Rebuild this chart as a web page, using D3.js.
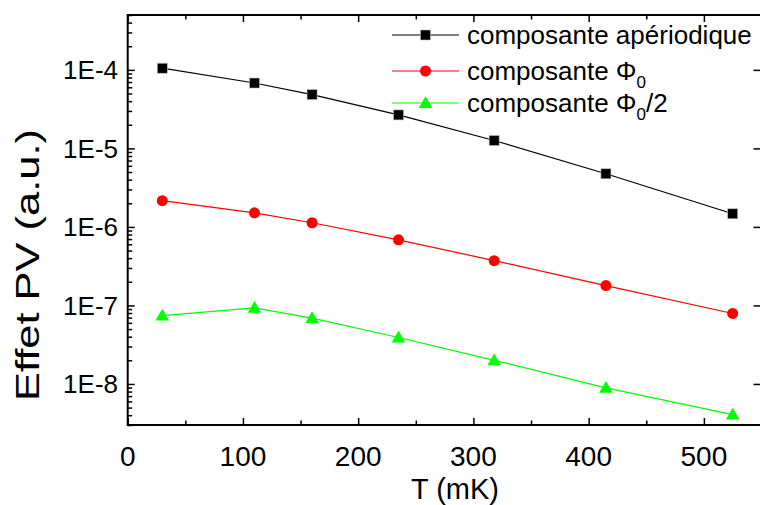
<!DOCTYPE html>
<html>
<head>
<meta charset="utf-8">
<script src="https://cdn.jsdelivr.net/npm/d3@7"></script>
<style>
  html, body { margin: 0; padding: 0; background: #fff; }
  svg { display: block; font-family: "Liberation Sans", Arial, sans-serif; }
</style>
</head>
<body>
<svg id="chart" width="760" height="505"></svg>
<script>
// ---- data ----
const temperatures = [30, 110, 160, 235, 318, 415, 525];
const aperiodique = [1.05e-4, 6.8e-5, 4.85e-5, 2.67e-5, 1.26e-5, 4.75e-6, 1.47e-6];
const phi0 = [2.16e-6, 1.51e-6, 1.13e-6, 6.85e-7, 3.72e-7, 1.79e-7, 7.9e-8];
const phi0half = [7.4e-8, 9.3e-8, 6.9e-8, 3.9e-8, 2.0e-8, 8.9e-9, 4.07e-9];
const xTicks = [0, 100, 200, 300, 400, 500];
const yTicks = [1e-8, 1e-7, 1e-6, 1e-5, 1e-4];
const yTickLabels = ["1E-8", "1E-7", "1E-6", "1E-5", "1E-4"];

const svg = d3.select("#chart");
const L = 127.7, R = 761.5, T = 15, B = 425;

const x = d3.scaleLinear().domain([0, 550]).range([L, R]);
const y = d3.scaleLog().domain([3e-9, 5e-4]).range([B, T]);

const series = [
  { name: "aper", values: aperiodique, color: "#000000", marker: "square" },
  { name: "phi0", values: phi0, color: "#ff0000", marker: "circle" },
  { name: "phi0half", values: phi0half, color: "#00ff00", marker: "triangle" }
];

// minor ticks
const minorY = [];
for (let e = -9; e <= -4; e++) {
  for (let m = 2; m <= 9; m++) {
    const v = m * Math.pow(10, e);
    if (v >= 3e-9 && v <= 5e-4) minorY.push(v);
  }
}
const minorX = [50, 150, 250, 350, 450, 550];

const axisG = svg.append("g");

// left axis
axisG.append("g")
  .attr("transform", `translate(${L},0)`)
  .call(d3.axisRight(y).tickValues(yTicks).tickSize(7).tickFormat(""))
  .call(g => g.select(".domain").remove())
  .selectAll("line").attr("stroke", "#000").attr("stroke-width", 1.5);
axisG.append("g")
  .attr("transform", `translate(${L},0)`)
  .call(d3.axisRight(y).tickValues(minorY).tickSize(4.5).tickFormat(""))
  .call(g => g.select(".domain").remove())
  .selectAll("line").attr("stroke", "#000").attr("stroke-width", 1.5);
// y labels
yTicks.forEach((v, i) => {
  svg.append("text")
    .attr("x", 118).attr("y", y(v))
    .attr("dy", "0.36em")
    .attr("text-anchor", "end")
    .attr("font-size", 26)
    .text(yTickLabels[i]);
});

// right axis (major only)
axisG.append("g")
  .attr("transform", `translate(${R},0)`)
  .call(d3.axisLeft(y).tickValues(yTicks).tickSize(8).tickFormat(""))
  .call(g => g.select(".domain").remove())
  .selectAll("line").attr("stroke", "#000").attr("stroke-width", 1.5);

// bottom axis
axisG.append("g")
  .attr("transform", `translate(0,${B})`)
  .call(d3.axisTop(x).tickValues(xTicks).tickSize(7).tickFormat(""))
  .call(g => g.select(".domain").remove())
  .selectAll("line").attr("stroke", "#000").attr("stroke-width", 1.5);
axisG.append("g")
  .attr("transform", `translate(0,${B})`)
  .call(d3.axisTop(x).tickValues(minorX).tickSize(4.5).tickFormat(""))
  .call(g => g.select(".domain").remove())
  .selectAll("line").attr("stroke", "#000").attr("stroke-width", 1.5);
xTicks.forEach(v => {
  svg.append("text")
    .attr("x", x(v)).attr("y", 466)
    .attr("text-anchor", "middle")
    .attr("font-size", 28)
    .text(v);
});

// top axis
axisG.append("g")
  .attr("transform", `translate(0,${T})`)
  .call(d3.axisBottom(x).tickValues(xTicks).tickSize(7).tickFormat(""))
  .call(g => g.select(".domain").remove())
  .selectAll("line").attr("stroke", "#000").attr("stroke-width", 1.5);
axisG.append("g")
  .attr("transform", `translate(0,${T})`)
  .call(d3.axisBottom(x).tickValues(minorX).tickSize(4.5).tickFormat(""))
  .call(g => g.select(".domain").remove())
  .selectAll("line").attr("stroke", "#000").attr("stroke-width", 1.5);

// frame
svg.append("rect")
  .attr("x", L).attr("y", T).attr("width", R - L).attr("height", B - T)
  .attr("fill", "none").attr("stroke", "#000").attr("stroke-width", 2);

// axis titles
svg.append("text")
  .attr("x", 455).attr("y", 499)
  .attr("text-anchor", "middle")
  .attr("font-size", 29)
  .text("T (mK)");
svg.append("text")
  .attr("transform", `translate(39,265) rotate(-90)`)
  .attr("text-anchor", "middle")
  .attr("font-size", 33)
  .attr("textLength", 272)
  .attr("lengthAdjust", "spacingAndGlyphs")
  .text("Effet PV (a.u.)");

// lines and markers
const line = d3.line().x((d, i) => x(temperatures[i])).y(d => y(d));
const tri = d3.symbol().type(d3.symbolTriangle).size(80);

function drawMarker(g, type, color, cx, cy) {
  if (type === "square") {
    g.append("rect").attr("x", cx - 5).attr("y", cy - 5).attr("width", 10).attr("height", 10)
      .attr("fill", color).attr("stroke", "#bbb").attr("stroke-width", 0.6);
  } else if (type === "circle") {
    g.append("circle").attr("cx", cx).attr("cy", cy).attr("r", 5.5).attr("fill", color);
  } else {
    g.append("path").attr("d", tri()).attr("transform", `translate(${cx},${cy + 1})`).attr("fill", color);
  }
}

series.forEach(s => {
  svg.append("path")
    .datum(s.values)
    .attr("d", line)
    .attr("fill", "none")
    .attr("stroke", s.color)
    .attr("stroke-width", 1.2);
  const g = svg.append("g");
  s.values.forEach((v, i) => drawMarker(g, s.marker, s.color, x(temperatures[i]), y(v)));
});

// legend
const legend = [
  { color: "#000000", marker: "square", y: 35 },
  { color: "#ff0000", marker: "circle", y: 71 },
  { color: "#00ff00", marker: "triangle", y: 103 }
];
legend.forEach((d, i) => {
  const g = svg.append("g");
  g.append("line").attr("x1", 392).attr("x2", 459).attr("y1", d.y).attr("y2", d.y)
    .attr("stroke", d.color).attr("stroke-width", 1.2);
  drawMarker(g, d.marker, d.color, 425.5, d.y);
  const t = g.append("text").attr("x", 467).attr("y", d.y + 8.5).attr("font-size", 26);
  if (i === 0) {
    t.text("composante apériodique");
  } else {
    t.append("tspan").text("composante Φ");
    t.append("tspan").attr("font-size", 17).attr("dy", 8).text("0");
    if (i === 2) t.append("tspan").attr("dy", -8).text("/2");
  }
});
</script>
</body>
</html>
